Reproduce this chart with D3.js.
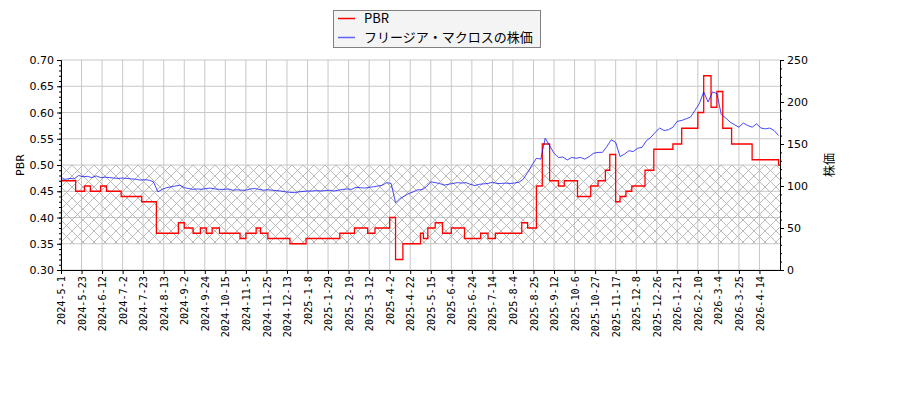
<!DOCTYPE html>
<html>
<head>
<meta charset="utf-8">
<script src="https://cdn.jsdelivr.net/npm/d3@7"></script>
<style>
  body { margin: 0; background: #fff; }
  svg { display: block; }
</style>
</head>
<body>
<svg id="chart" width="900" height="400"></svg>
<script>
// x axis = trading day index, one tick label every 14 trading days
const tickLabels = ["2024-5-1", "2024-5-23", "2024-6-12", "2024-7-2", "2024-7-23", "2024-8-13",
    "2024-9-2", "2024-9-24", "2024-10-15", "2024-11-5", "2024-11-25", "2024-12-13",
    "2025-1-8", "2025-1-29", "2025-2-19", "2025-3-12", "2025-4-2", "2025-4-22",
    "2025-5-15", "2025-6-4", "2025-6-24", "2025-7-14", "2025-8-4", "2025-8-25",
    "2025-9-12", "2025-10-6", "2025-10-27", "2025-11-17", "2025-12-8", "2025-12-26",
    "2026-1-21", "2026-2-10", "2026-3-4", "2026-3-25", "2026-4-14"]
const tickStep = 14
const lastIdx = 490

// PBR (step line): day index where a new value starts
const pbrIdx = [0, 10, 16, 20, 27, 31, 41, 55, 65, 80, 84, 90, 95, 99, 103, 108, 122, 126, 133, 136,
    141, 156, 167, 190, 200, 209, 214, 224, 228, 233, 245, 247, 250, 255, 260, 266, 275, 286, 291, 296,
    314, 318, 324, 328, 333, 339, 343, 352, 361, 366, 371, 374, 378, 381, 385, 389, 398, 404, 417, 423,
    434, 438, 443, 447, 451, 457, 471, 489]
const pbrVal = [0.47, 0.45, 0.46, 0.45, 0.46, 0.45, 0.44, 0.43, 0.37, 0.39, 0.38, 0.37, 0.38, 0.37, 0.38, 0.37, 0.36, 0.37, 0.38, 0.37,
    0.36, 0.35, 0.36, 0.37, 0.38, 0.37, 0.38, 0.40, 0.32, 0.35, 0.37, 0.36, 0.38, 0.39, 0.37, 0.38, 0.36, 0.37, 0.36, 0.37,
    0.39, 0.38, 0.46, 0.54, 0.47, 0.46, 0.47, 0.44, 0.46, 0.47, 0.49, 0.52, 0.43, 0.44, 0.45, 0.46, 0.49, 0.53, 0.54, 0.57,
    0.60, 0.67, 0.61, 0.64, 0.57, 0.54, 0.51, 0.50]

// share price, one reading every 3 trading days
const priceStep = 3
const price = [108.5, 108, 109, 108.5, 112.5, 111, 111.5, 110, 112, 110,
    110.5, 110, 109.5, 109, 109.5, 109, 108.5, 108, 107, 107.5,
    107, 105, 93, 96, 98, 99, 100, 101, 98, 97,
    96, 96.5, 96, 97, 97.5, 96.5, 96, 96, 96.5, 95,
    95.5, 95, 95, 96.5, 97, 96, 95, 95.5, 95, 94.5,
    94, 93, 92.5, 92, 93, 93.5, 94, 94, 94.5, 94,
    94.5, 95, 94, 95, 96, 96.5, 96, 98.5, 98, 97.5,
    98.5, 99, 100, 101, 104, 103, 80, 85, 88, 91,
    93, 95.5, 95.5, 99, 105, 104, 103, 101, 102, 103,
    104, 103.5, 104, 102, 100.5, 102, 102.5, 103, 104.5, 103,
    103, 103.5, 103, 103.5, 104.5, 108, 116, 125, 133, 132,
    157, 148, 139, 134, 134.5, 131, 134, 133, 134, 132,
    135, 139, 140, 140, 147, 155, 152, 135, 138, 142,
    141, 145, 146, 154, 158, 164, 169, 166, 167, 170,
    177, 178, 180, 182, 190, 198, 212, 200, 212, 210,
    185, 181, 176, 173, 170, 175, 172, 170, 174, 169,
    168, 169, 166, 160]

const bandLow = 0.35, bandHigh = 0.50

const svg = d3.select("#chart")
const mLeft = 61, mRight = 780, mTop = 60, mBottom = 270

const x = d3.scaleLinear().domain([0, lastIdx]).range([mLeft, mRight])
const yL = d3.scaleLinear().domain([0.30, 0.70]).range([mBottom, mTop])
const yR = d3.scaleLinear().domain([0, 250]).range([mBottom, mTop])

const tickIdx = tickLabels.map((d, i) => i * tickStep)

// hatch pattern
const hs = 11
const pat = svg.append("defs").append("pattern")
    .attr("id", "hatch")
    .attr("patternUnits", "userSpaceOnUse")
    .attr("width", hs)
    .attr("height", hs)
    .attr("x", mLeft)
    .attr("y", yL(bandHigh))
pat.append("path")
    .attr("d", `M0,0L${hs},${hs}M0,${hs}L${hs},0`)
    .attr("stroke", "#b4b4b4")
    .attr("stroke-width", 0.9)

// grid
const grid = svg.append("g")
grid.selectAll(".vg").data(tickIdx).enter().append("line")
    .attr("x1", d => x(d)).attr("x2", d => x(d))
    .attr("y1", mTop).attr("y2", mBottom)
    .attr("stroke", "#c8c8c8").attr("stroke-width", 1)
grid.selectAll(".hg").data(d3.range(0.30, 0.7001, 0.05)).enter().append("line")
    .attr("x1", mLeft).attr("x2", mRight)
    .attr("y1", d => yL(d)).attr("y2", d => yL(d))
    .attr("stroke", "#c8c8c8").attr("stroke-width", 1)

// band
svg.append("rect")
    .attr("x", mLeft).attr("width", mRight - mLeft)
    .attr("y", yL(bandHigh)).attr("height", yL(bandLow) - yL(bandHigh))
    .attr("fill", "url(#hatch)")

// PBR step line
const pbrData = pbrIdx.map((d, i) => [d, pbrVal[i]])
pbrData.push([lastIdx, pbrVal[pbrVal.length - 1]])
svg.append("path")
    .datum(pbrData)
    .attr("fill", "none")
    .attr("stroke", "red")
    .attr("stroke-width", 1.3)
    .attr("d", d3.line().curve(d3.curveStepAfter).x(d => x(d[0])).y(d => yL(d[1])))

// share price
svg.append("path")
    .datum(price.map((d, i) => [i * priceStep, d]))
    .attr("fill", "none")
    .attr("stroke", "blue")
    .attr("stroke-opacity", 0.8)
    .attr("stroke-width", 0.9)
    .attr("d", d3.line().x(d => x(d[0])).y(d => yR(d[1])))

// axes
const tickFont = "DejaVu Sans, sans-serif"

const xAxis = svg.append("g")
    .attr("transform", `translate(0,${mBottom})`)
    .call(d3.axisBottom(x).tickValues(tickIdx).tickFormat((d, i) => tickLabels[i]).tickSize(4).tickSizeOuter(0))
xAxis.selectAll("text")
    .attr("transform", "rotate(-90)")
    .attr("x", -6)
    .attr("y", 0)
    .attr("dy", "0.35em")
    .attr("text-anchor", "end")
    .style("font-family", "DejaVu Sans Mono, monospace")
    .style("font-size", "10.2px")
    .attr("fill", "#000")

const yAxisL = svg.append("g")
    .attr("transform", `translate(${mLeft},0)`)
    .call(d3.axisLeft(yL).tickValues(d3.range(0.30, 0.7001, 0.05)).tickFormat(d3.format(".2f")).tickSize(4).tickSizeOuter(0))
svg.append("g")
    .attr("transform", `translate(${mLeft},0)`)
    .call(d3.axisLeft(yL).tickValues(d3.range(0.30, 0.7001, 0.01)).tickFormat("").tickSize(2).tickSizeOuter(0))

const yAxisR = svg.append("g")
    .attr("transform", `translate(${mRight},0)`)
    .call(d3.axisRight(yR).tickValues(d3.range(0, 251, 50)).tickSize(4).tickSizeOuter(0))
svg.append("g")
    .attr("transform", `translate(${mRight},0)`)
    .call(d3.axisRight(yR).tickValues(d3.range(0, 251, 10)).tickFormat("").tickSize(2).tickSizeOuter(0))

;[yAxisL, yAxisR].forEach(a => a.selectAll("text")
    .style("font-family", tickFont)
    .style("font-size", "11px")
    .attr("fill", "#000"))
svg.selectAll(".domain").attr("stroke", "#000")
svg.selectAll(".tick line").attr("stroke", "#000")

// axis titles
svg.append("text")
    .attr("transform", `translate(24,${(mTop + mBottom) / 2}) rotate(-90)`)
    .attr("text-anchor", "middle")
    .style("font-family", tickFont)
    .style("font-size", "11px")
    .text("PBR")
svg.append("text")
    .attr("transform", `translate(834,${(mTop + mBottom) / 2}) rotate(-90)`)
    .attr("text-anchor", "middle")
    .style("font-family", "Noto Sans CJK JP, sans-serif")
    .style("font-size", "12px")
    .text("株価")

// legend
const legend = svg.append("g")
legend.append("rect")
    .attr("x", 333.5).attr("y", 10.5)
    .attr("width", 207).attr("height", 37)
    .attr("fill", "#f4f4f4")
    .attr("stroke", "#808080")
const legendItems = [["PBR", "red", 1], ["フリージア・マクロスの株価", "blue", 0.6]]
legend.selectAll(".li").data(legendItems).enter().append("line")
    .attr("x1", 338).attr("x2", 355)
    .attr("y1", (d, i) => 18.5 + i * 19).attr("y2", (d, i) => 18.5 + i * 19)
    .attr("stroke", d => d[1]).attr("stroke-opacity", d => d[2]).attr("stroke-width", 1.5)
legend.selectAll(".lt").data(legendItems).enter().append("text")
    .attr("x", 364)
    .attr("y", (d, i) => 18.5 + i * 19)
    .attr("dy", "0.36em")
    .style("font-family", "Noto Sans CJK JP, sans-serif")
    .style("font-size", "13px")
    .attr("fill", "#000")
    .text(d => d[0])
</script>
</body>
</html>
